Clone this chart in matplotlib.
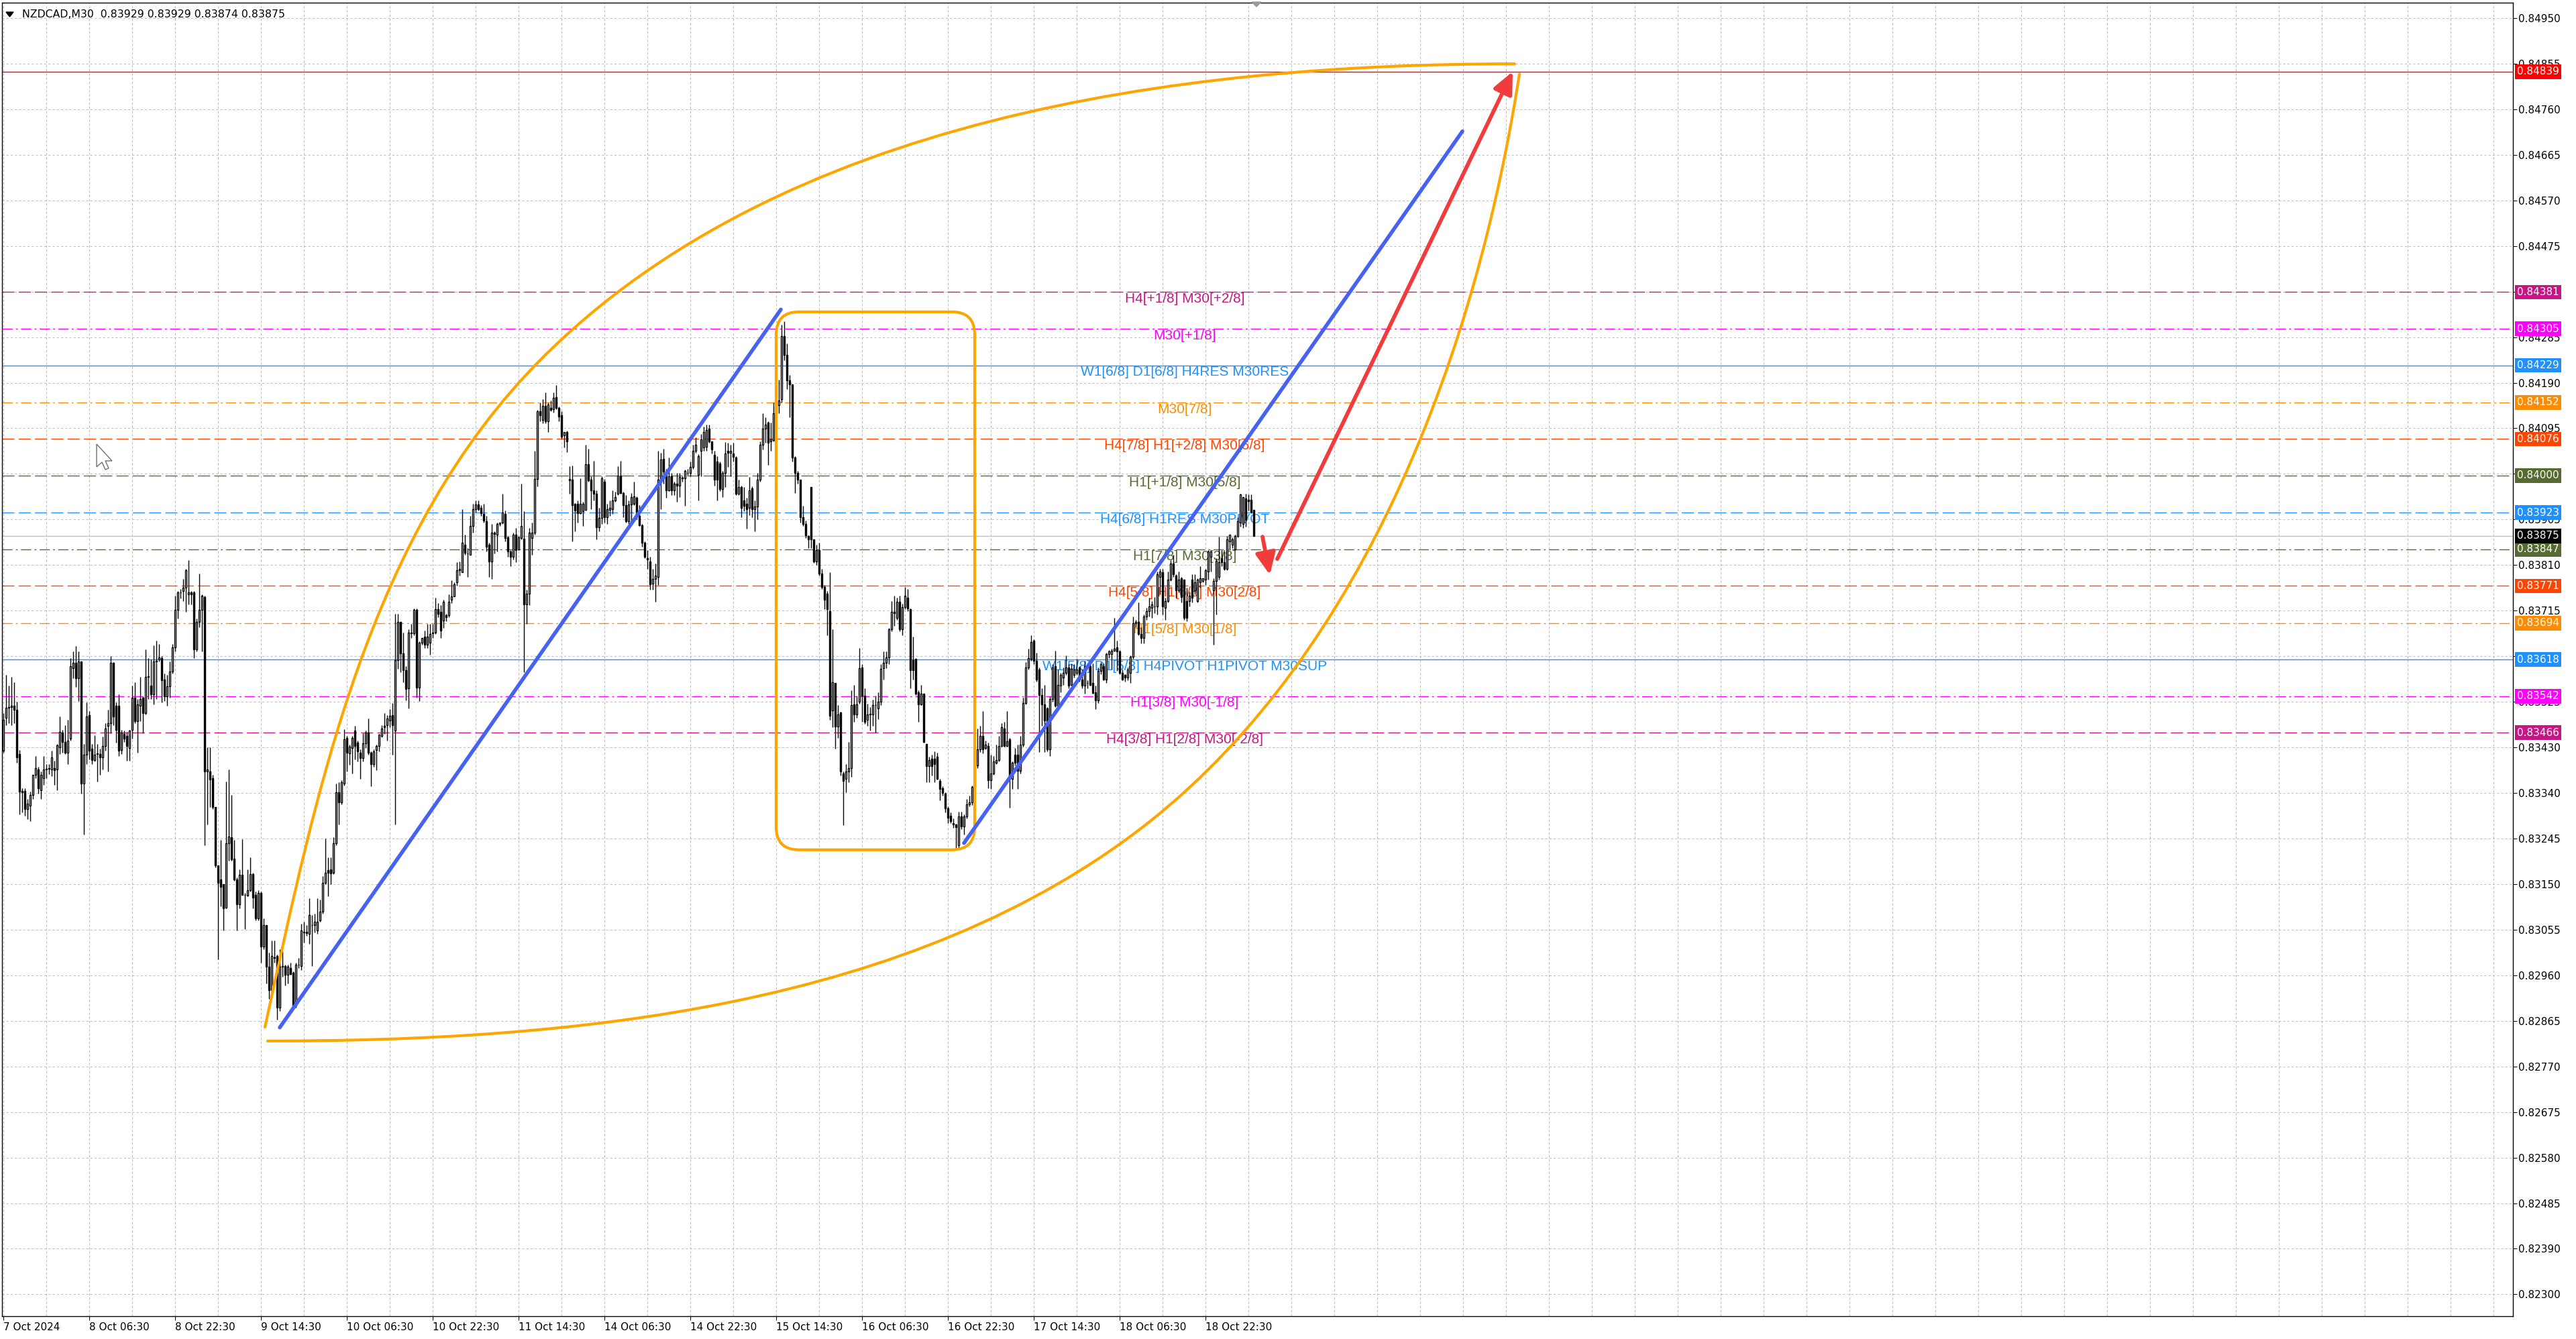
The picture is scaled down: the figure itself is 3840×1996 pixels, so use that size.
import numpy as np
import matplotlib
matplotlib.use("Agg")
import matplotlib.pyplot as plt
from matplotlib.patches import FancyBboxPatch, PathPatch, Polygon
from matplotlib.path import Path
from matplotlib.transforms import IdentityTransform

# ============================================
# DATA  (candle prices stored as points above 0.82000)
# ============================================

OPEN_PTS = [
    1429, 1497, 1518, 1519, 1522, 1514, 1422, 1345, 1345, 1308,
    1315, 1337, 1379, 1390, 1347, 1372, 1390, 1391, 1390, 1392,
    1390, 1436, 1466, 1447, 1425, 1454, 1600, 1611, 1579, 1614,
    1361, 1420, 1502, 1433, 1409, 1422, 1422, 1415, 1439, 1480,
    1486, 1611, 1522, 1522, 1430, 1463, 1459, 1435, 1472, 1539,
    1490, 1522, 1539, 1507, 1582, 1564, 1546, 1614, 1618, 1621,
    1577, 1541, 1563, 1593, 1643, 1721, 1757, 1760, 1767, 1753,
    1757, 1758, 1639, 1696, 1721, 1748, 1386, 1386, 1372, 1312,
    1191, 1162, 1151, 1103, 1237, 1249, 1205, 1162, 1110, 1171,
    1130, 1128, 1139, 1173, 1130, 1080, 1134, 1022, 1066, 980,
    931, 1000, 1002, 895, 980, 982, 963, 977, 968, 899,
    984, 982, 1052, 1053, 1048, 1067, 1067, 1055, 1077, 1094,
    1155, 1181, 1183, 1176, 1236, 1343, 1321, 1361, 1455, 1423,
    1435, 1470, 1446, 1425, 1413, 1444, 1467, 1425, 1401, 1430,
    1439, 1460, 1478, 1482, 1492, 1503, 1471, 1617, 1696, 1631,
    1596, 1558, 1674, 1672, 1721, 1560, 1653, 1665, 1649, 1653,
    1672, 1674, 1723, 1717, 1699, 1710, 1710, 1742, 1749, 1778,
    1803, 1800, 1856, 1838, 1836, 1895, 1930, 1940, 1933, 1920,
    1905, 1857, 1822, 1881, 1877, 1900, 1902, 1920, 1872, 1842,
    1831, 1877, 1847, 1870, 1869, 1733, 1755, 1870, 1881, 1993,
    2134, 2116, 2145, 2113, 2141, 2138, 2163, 2141, 2126, 2084,
    2091, 1990, 1991, 1942, 1942, 1922, 1926, 1929, 2024, 1991,
    1970, 1963, 1893, 1912, 1988, 1913, 1929, 1931, 1949, 1963,
    2000, 1964, 1938, 1905, 1940, 1942, 1954, 1917, 1897, 1860,
    1828, 1822, 1776, 1786, 1790, 1991, 2035, 2008, 1969, 1999,
    1969, 1983, 1979, 1995, 1995, 2006, 2006, 2018, 2052, 2002,
    2052, 2058, 2060, 2097, 2071, 2043, 2029, 2025, 1972, 2006,
    2051, 2048, 2046, 2037, 1962, 1976, 1949, 1941, 1933, 1974,
    1930, 1936, 1991, 2064, 2098, 2110, 2071, 2074, 2129, 2146,
    2159, 2290, 2251, 2198, 2190, 2038, 2006, 1991, 1914, 1900,
    1874, 1976, 1867, 1822, 1845, 1796, 1769, 1755, 1719, 1512,
    1569, 1479, 1508, 1382, 1370, 1386, 1393, 1525, 1504, 1531,
    1602, 1543, 1493, 1504, 1504, 1524, 1516, 1531, 1600, 1612,
    1622, 1681, 1715, 1704, 1738, 1681, 1727, 1747, 1723, 1617,
    1619, 1550, 1525, 1547, 1443, 1397, 1412, 1412, 1416, 1366,
    1351, 1340, 1309, 1294, 1278, 1275, 1233, 1293, 1271, 1293,
    1318, 1321, 1354, 1398, 1431, 1459, 1434, 1439, 1368, 1382,
    1404, 1409, 1439, 1475, 1439, 1453, 1371, 1420, 1420, 1387,
    1442, 1528, 1602, 1619, 1657, 1616, 1597, 1544, 1525, 1517,
    1431, 1536, 1605, 1522, 1564, 1580, 1591, 1602, 1566, 1586,
    1591, 1602, 1577, 1564, 1570, 1605, 1569, 1550, 1533, 1594,
    1605, 1577, 1630, 1630, 1636, 1643, 1635, 1591, 1586, 1580,
    1591, 1624, 1693, 1696, 1671, 1663, 1707, 1718, 1726, 1729,
    1729, 1790, 1799, 1726, 1740, 1784, 1817, 1792, 1762, 1787,
    1784, 1740, 1740, 1784, 1762, 1740, 1779, 1781, 1784, 1801,
    1831, 1762, 1781, 1790, 1828, 1820, 1806, 1864, 1856, 1847,
    1875, 1903, 1900, 1952, 1950, 1950, 1929,
]

HIGH_PTS = [
    1507, 1586, 1564, 1582, 1571, 1530, 1430, 1351, 1351, 1329,
    1344, 1379, 1418, 1395, 1386, 1418, 1401, 1401, 1429, 1408,
    1443, 1500, 1472, 1482, 1493, 1621, 1635, 1646, 1635, 1614,
    1443, 1529, 1511, 1443, 1461, 1443, 1433, 1458, 1486, 1514,
    1625, 1613, 1529, 1546, 1472, 1470, 1468, 1472, 1564, 1571,
    1536, 1582, 1541, 1639, 1621, 1618, 1648, 1657, 1650, 1625,
    1589, 1586, 1614, 1650, 1750, 1760, 1765, 1785, 1806, 1824,
    1760, 1760, 1703, 1796, 1753, 1750, 1436, 1436, 1379, 1312,
    1191, 1244, 1151, 1365, 1390, 1337, 1244, 1166, 1183, 1245,
    1134, 1183, 1208, 1176, 1137, 1139, 1137, 1080, 1066, 1009,
    1034, 1034, 1005, 1016, 1013, 984, 984, 988, 970, 988,
    998, 1069, 1073, 1066, 1123, 1087, 1091, 1123, 1119, 1169,
    1247, 1208, 1208, 1249, 1361, 1364, 1368, 1473, 1460, 1442,
    1460, 1480, 1450, 1432, 1465, 1471, 1496, 1428, 1432, 1442,
    1464, 1482, 1507, 1503, 1515, 1528, 1713, 1713, 1696, 1674,
    1605, 1681, 1692, 1724, 1724, 1656, 1663, 1678, 1692, 1692,
    1692, 1746, 1735, 1731, 1742, 1713, 1753, 1783, 1779, 1820,
    1822, 1931, 1877, 1849, 1917, 1942, 1949, 1949, 1938, 1942,
    1917, 1860, 1899, 1885, 1902, 1902, 1963, 1927, 1874, 1845,
    1881, 1892, 1874, 1983, 1926, 1763, 1892, 1902, 2052, 2136,
    2152, 2159, 2173, 2152, 2156, 2173, 2188, 2143, 2134, 2091,
    2093, 2020, 2021, 1943, 1949, 1995, 1945, 2064, 2056, 1999,
    2031, 1970, 1933, 1999, 1993, 1942, 1949, 1970, 1967, 2020,
    2031, 1967, 1959, 1949, 1964, 1988, 1957, 1938, 1899, 1863,
    1845, 1831, 1806, 1817, 2052, 2048, 2056, 2014, 2037, 2006,
    1987, 2006, 2006, 1999, 2012, 2014, 2029, 2064, 2079, 2045,
    2087, 2102, 2106, 2106, 2071, 2052, 2041, 2029, 2010, 2069,
    2068, 2064, 2068, 2041, 1992, 1979, 1976, 1954, 1997, 1977,
    1949, 2006, 2071, 2130, 2121, 2113, 2110, 2152, 2152, 2199,
    2313, 2320, 2274, 2209, 2190, 2041, 2010, 1991, 1937, 1907,
    1876, 1976, 1868, 1857, 1861, 1807, 1773, 1761, 1799, 1681,
    1569, 1524, 1510, 1386, 1401, 1447, 1554, 1566, 1543, 1642,
    1608, 1558, 1527, 1520, 1535, 1543, 1550, 1608, 1635, 1635,
    1684, 1740, 1750, 1746, 1750, 1734, 1769, 1765, 1724, 1665,
    1619, 1554, 1566, 1547, 1443, 1416, 1420, 1428, 1424, 1370,
    1355, 1343, 1313, 1301, 1288, 1277, 1302, 1302, 1296, 1329,
    1335, 1357, 1415, 1475, 1481, 1511, 1450, 1445, 1420, 1418,
    1442, 1459, 1486, 1489, 1511, 1456, 1406, 1434, 1442, 1459,
    1539, 1613, 1641, 1668, 1660, 1632, 1602, 1558, 1566, 1519,
    1542, 1608, 1636, 1597, 1591, 1602, 1627, 1608, 1610, 1608,
    1619, 1605, 1597, 1616, 1575, 1610, 1610, 1564, 1602, 1613,
    1610, 1632, 1638, 1641, 1704, 1657, 1638, 1597, 1588, 1602,
    1627, 1707, 1701, 1737, 1685, 1712, 1726, 1746, 1740, 1748,
    1801, 1806, 1806, 1746, 1801, 1825, 1836, 1795, 1801, 1790,
    1784, 1768, 1759, 1795, 1795, 1787, 1812, 1787, 1806, 1845,
    1842, 1787, 1828, 1873, 1845, 1842, 1875, 1878, 1872, 1878,
    1914, 1962, 1955, 1963, 1961, 1961, 1929,
]

LOW_PTS = [
    1425, 1482, 1486, 1482, 1486, 1404, 1297, 1301, 1294, 1287,
    1283, 1329, 1372, 1340, 1329, 1358, 1372, 1380, 1376, 1358,
    1347, 1422, 1425, 1422, 1401, 1450, 1579, 1561, 1532, 1340,
    1255, 1401, 1411, 1401, 1406, 1365, 1379, 1390, 1429, 1386,
    1465, 1482, 1445, 1418, 1422, 1447, 1408, 1408, 1454, 1486,
    1425, 1490, 1465, 1504, 1536, 1536, 1525, 1536, 1614, 1529,
    1532, 1522, 1539, 1589, 1635, 1703, 1745, 1739, 1717, 1732,
    1732, 1621, 1635, 1685, 1635, 1233, 1276, 1312, 1308, 1187,
    995, 1105, 1055, 1101, 1201, 1201, 1158, 1055, 1101, 1130,
    1059, 1126, 1137, 1101, 1077, 1077, 988, 1016, 945, 913,
    924, 988, 870, 888, 959, 941, 945, 963, 895, 895,
    977, 973, 1030, 1045, 1027, 982, 1052, 1048, 1073, 1091,
    1151, 1126, 1151, 1173, 1232, 1275, 1318, 1357, 1386, 1400,
    1382, 1411, 1407, 1371, 1407, 1435, 1421, 1355, 1396, 1389,
    1428, 1457, 1464, 1450, 1478, 1421, 1275, 1599, 1592, 1571,
    1534, 1517, 1663, 1669, 1539, 1532, 1649, 1642, 1642, 1628,
    1663, 1671, 1706, 1663, 1684, 1698, 1706, 1735, 1749, 1771,
    1792, 1799, 1835, 1790, 1835, 1881, 1924, 1927, 1917, 1902,
    1842, 1790, 1786, 1838, 1842, 1895, 1899, 1863, 1831, 1812,
    1826, 1820, 1845, 1867, 1592, 1692, 1731, 1835, 1877, 1977,
    2113, 2109, 2109, 2091, 2133, 2131, 2138, 2113, 2077, 2059,
    2049, 1963, 1863, 1885, 1902, 1920, 1895, 1927, 1988, 1931,
    1949, 1867, 1885, 1899, 1902, 1899, 1917, 1920, 1945, 1959,
    1963, 1913, 1902, 1899, 1899, 1938, 1910, 1895, 1853, 1828,
    1806, 1763, 1763, 1738, 1773, 1930, 1983, 1954, 1968, 1960,
    1960, 1945, 1956, 1987, 1937, 2002, 1999, 2014, 2048, 1949,
    1999, 2052, 2052, 2068, 2046, 1979, 1949, 1968, 1956, 1976,
    2018, 1999, 2029, 1960, 1960, 1914, 1926, 1890, 1918, 1914,
    1884, 1910, 1987, 2054, 2068, 2022, 2052, 2071, 2125, 2130,
    2152, 2240, 2179, 2121, 2029, 1964, 1983, 1903, 1895, 1870,
    1849, 1849, 1819, 1815, 1792, 1765, 1723, 1669, 1493, 1478,
    1433, 1455, 1378, 1274, 1343, 1363, 1374, 1489, 1497, 1527,
    1489, 1485, 1481, 1470, 1481, 1466, 1494, 1524, 1577, 1600,
    1608, 1677, 1688, 1700, 1677, 1669, 1723, 1719, 1558, 1577,
    1545, 1489, 1524, 1445, 1363, 1363, 1378, 1363, 1369, 1326,
    1336, 1301, 1278, 1278, 1268, 1225, 1227, 1266, 1255, 1288,
    1313, 1316, 1351, 1393, 1426, 1423, 1431, 1351, 1349, 1379,
    1401, 1406, 1437, 1437, 1437, 1310, 1349, 1398, 1349, 1382,
    1437, 1525, 1597, 1616, 1608, 1572, 1426, 1481, 1426, 1428,
    1418, 1531, 1519, 1519, 1550, 1566, 1586, 1558, 1564, 1580,
    1586, 1572, 1558, 1547, 1558, 1564, 1547, 1515, 1528, 1588,
    1575, 1569, 1621, 1597, 1635, 1594, 1588, 1575, 1572, 1575,
    1569, 1619, 1685, 1668, 1652, 1652, 1701, 1707, 1704, 1715,
    1712, 1754, 1712, 1701, 1737, 1781, 1790, 1746, 1757, 1737,
    1701, 1698, 1729, 1737, 1754, 1737, 1768, 1779, 1773, 1784,
    1801, 1649, 1712, 1784, 1812, 1803, 1803, 1845, 1850, 1845,
    1872, 1894, 1892, 1894, 1927, 1922, 1874,
]

CLOSE_PTS = [
    1493, 1518, 1519, 1522, 1514, 1415, 1344, 1342, 1308, 1319,
    1337, 1379, 1393, 1351, 1379, 1390, 1391, 1393, 1415, 1389,
    1440, 1468, 1447, 1425, 1450, 1604, 1611, 1579, 1614, 1361,
    1420, 1500, 1429, 1409, 1420, 1423, 1415, 1438, 1475, 1486,
    1611, 1500, 1472, 1429, 1466, 1454, 1438, 1470, 1539, 1490,
    1525, 1536, 1507, 1582, 1584, 1546, 1614, 1616, 1623, 1575,
    1541, 1563, 1593, 1643, 1721, 1757, 1758, 1767, 1803, 1757,
    1754, 1639, 1696, 1721, 1751, 1386, 1390, 1369, 1312, 1191,
    1155, 1146, 1101, 1237, 1251, 1203, 1162, 1110, 1171, 1130,
    1129, 1139, 1173, 1124, 1080, 1134, 1022, 1067, 980, 931,
    1002, 998, 895, 980, 982, 963, 980, 965, 896, 984,
    985, 1055, 1053, 1050, 1087, 1066, 1073, 1074, 1094, 1155,
    1176, 1176, 1174, 1237, 1343, 1321, 1363, 1453, 1425, 1437,
    1455, 1439, 1427, 1413, 1444, 1467, 1425, 1401, 1428, 1439,
    1462, 1475, 1480, 1496, 1501, 1482, 1617, 1696, 1631, 1596,
    1557, 1674, 1672, 1722, 1560, 1653, 1663, 1649, 1665, 1671,
    1674, 1723, 1713, 1678, 1738, 1706, 1738, 1749, 1774, 1803,
    1806, 1860, 1840, 1838, 1895, 1931, 1940, 1930, 1922, 1906,
    1853, 1822, 1881, 1879, 1899, 1902, 1924, 1870, 1842, 1831,
    1877, 1845, 1872, 1895, 1733, 1755, 1881, 1881, 1993, 2134,
    2126, 2145, 2113, 2147, 2136, 2161, 2140, 2123, 2081, 2090,
    2071, 1993, 1938, 1927, 1922, 1942, 1942, 2024, 1990, 1970,
    1963, 1893, 1912, 1995, 1913, 1931, 1933, 1949, 1956, 2000,
    1964, 1938, 1905, 1940, 1956, 1957, 1917, 1897, 1860, 1831,
    1826, 1774, 1786, 1792, 1991, 2033, 2008, 1969, 1999, 1969,
    1983, 1979, 1997, 1996, 2010, 2006, 2018, 2052, 2064, 2041,
    2075, 2091, 2094, 2071, 2054, 1991, 1991, 1972, 2006, 2046,
    2048, 2051, 2039, 1962, 1976, 1933, 1937, 1931, 1969, 1930,
    1936, 1991, 2064, 2097, 2106, 2068, 2075, 2129, 2146, 2156,
    2290, 2251, 2198, 2190, 2038, 2006, 1991, 1914, 1900, 1876,
    1867, 1867, 1822, 1845, 1796, 1769, 1742, 1723, 1501, 1571,
    1479, 1504, 1386, 1366, 1386, 1393, 1524, 1504, 1525, 1600,
    1543, 1489, 1504, 1505, 1524, 1523, 1531, 1599, 1612, 1623,
    1681, 1717, 1717, 1738, 1681, 1727, 1750, 1724, 1596, 1596,
    1547, 1525, 1547, 1447, 1397, 1410, 1397, 1401, 1370, 1349,
    1341, 1309, 1290, 1282, 1275, 1270, 1293, 1271, 1293, 1318,
    1321, 1354, 1398, 1431, 1459, 1431, 1442, 1368, 1382, 1406,
    1409, 1439, 1478, 1439, 1448, 1371, 1404, 1404, 1387, 1442,
    1528, 1602, 1621, 1655, 1616, 1577, 1544, 1525, 1492, 1431,
    1536, 1602, 1522, 1566, 1586, 1591, 1602, 1564, 1599, 1597,
    1597, 1577, 1564, 1605, 1570, 1566, 1548, 1533, 1594, 1608,
    1577, 1630, 1635, 1636, 1641, 1635, 1591, 1577, 1580, 1597,
    1624, 1693, 1696, 1671, 1663, 1707, 1718, 1729, 1732, 1729,
    1795, 1801, 1729, 1740, 1784, 1817, 1795, 1762, 1784, 1748,
    1704, 1704, 1751, 1746, 1779, 1784, 1787, 1787, 1803, 1842,
    1842, 1781, 1823, 1820, 1820, 1806, 1867, 1878, 1867, 1875,
    1905, 1961, 1955, 1908, 1947, 1925, 1875,
]

TITLE = "NZDCAD,M30  0.83929 0.83929 0.83874 0.83875"

Y_TICK_LABELS = [
    "0.84950", "0.84855", "0.84760", "0.84665", "0.84570", "0.84475",
    "0.84380", "0.84285", "0.84190", "0.84095", "0.84000", "0.83905",
    "0.83810", "0.83715", "0.83620", "0.83525", "0.83430", "0.83340",
    "0.83245", "0.83150", "0.83055", "0.82960", "0.82865", "0.82770",
    "0.82675", "0.82580", "0.82485", "0.82390", "0.82300",
]

X_TICK_BARS = list(range(0, 449, 32))
X_TICK_LABELS = [
    "7 Oct 2024", "8 Oct 06:30", "8 Oct 22:30", "9 Oct 14:30",
    "10 Oct 06:30", "10 Oct 22:30", "11 Oct 14:30", "14 Oct 06:30",
    "14 Oct 22:30", "15 Oct 14:30", "16 Oct 06:30", "16 Oct 22:30",
    "17 Oct 14:30", "18 Oct 06:30", "18 Oct 22:30",
]

# Murrey-math style levels
LEVEL_PRICES = [0.84381, 0.84305, 0.84229, 0.84152, 0.84076, 0.84000, 0.83923,
                0.83847, 0.83771, 0.83694, 0.83618, 0.83542, 0.83466]
LEVEL_NAMES = [
    "H4[+1/8] M30[+2/8]",
    "M30[+1/8]",
    "W1[6/8] D1[6/8] H4RES M30RES",
    "M30[7/8]",
    "H4[7/8] H1[+2/8] M30[6/8]",
    "H1[+1/8] M30[5/8]",
    "H4[6/8] H1RES M30PIVOT",
    "H1[7/8] M30[3/8]",
    "H4[5/8] H1[6/8] M30[2/8]",
    "H1[5/8] M30[1/8]",
    "W1[5/8] D1[5/8] H4PIVOT H1PIVOT M30SUP",
    "H1[3/8] M30[-1/8]",
    "H4[3/8] H1[2/8] M30[-2/8]",
]
LEVEL_COLORS = ["#C71585", "#FF00FF", "#1E90FF", "#FF8C00", "#FF4500", "#556B2F", "#1E90FF",
                "#556B2F", "#FF4500", "#FF8C00", "#1E90FF", "#FF00FF", "#C71585"]
LEVEL_STYLES = ["dash", "dashdot", "solid", "dashdot", "dash", "dash", "dash",
                "dashdot", "dash", "dashdot", "solid", "dashdot", "dash"]

TARGET_PRICE = 0.84839
LAST_PRICE = 0.83875

# drawing objects (bar index, price)
BLUE_LINE_1 = [(103.0, 0.82854), (289.75, 0.84345)]
BLUE_LINE_2 = [(358.0, 0.83237), (543.75, 0.84715)]
BOX_BARS = (288.0, 362.0)
BOX_PRICES = (0.83223, 0.84340)
SMALL_ARROW = [(469.25, 0.83873), (472.0, 0.83794)]
BIG_ARROW = [(474.75, 0.83827), (562.5, 0.84839)]
UPPER_ARC_BARS = [97.5, 116.9, 135.9, 200.8, 290.2, 437.1, 563.2]
UPPER_ARC_PRICES = [0.82855, 0.83350, 0.83882, 0.84244, 0.84742, 0.84855, 0.84855]
LOWER_ARC_BARS = [98.5, 211.2, 339.1, 427.3, 508.1, 549.1, 565.0]
LOWER_ARC_PRICES = [0.82826, 0.82826, 0.82893, 0.83282, 0.83640, 0.84264, 0.84834]

# ============================================
# FIGURE
# ============================================

W, H, DPI = 3840, 1996, 100
AX_L, AX_R, AX_T, AX_B = 3, 3746, 4, 1962

fig = plt.figure(figsize=(W / DPI, H / DPI), dpi=DPI, facecolor="white")
ax = fig.add_axes([AX_L / W, (H - AX_B) / H, (AX_R - AX_L) / W, (AX_B - AX_T) / H])
ax.set_xlim(-0.5, 935.25)
ax.set_ylim(0.822546, 0.849820)
ax.set_facecolor("white")


def px_x(px):
    """pixel column -> axes fraction"""
    return (px - AX_L) / (AX_R - AX_L)


# grid
yticks = np.linspace(0.84950, 0.82300, len(Y_TICK_LABELS))
for y in yticks:
    ax.axhline(y, color="#bdbdbd", lw=0.75, ls=(0, (3, 3)), zorder=1)
for b in range(0, 936, 16):
    ax.axvline(b, color="#bdbdbd", lw=0.75, ls=(0, (3, 3)), zorder=1)

# level lines + labels
STYLE_MAP = {"solid": "-", "dash": (0, (13, 4.5)), "dashdot": (0, (11, 3.5, 2, 3.5))}
for price, name, col, st in zip(LEVEL_PRICES, LEVEL_NAMES, LEVEL_COLORS, LEVEL_STYLES):
    ax.axhline(price, color=col, lw=1.0, ls=STYLE_MAP[st], zorder=2)
    ax.annotate(name, xy=(440.25, price), xytext=(0, -0.5), textcoords="offset points",
                ha="center", va="top", color=col, fontsize=15,
                family=["Liberation Sans", "DejaVu Sans"], zorder=2)

ax.axhline(TARGET_PRICE, color="#FF0000", lw=1.0, zorder=2)
ax.axhline(LAST_PRICE, color="#C0C0C0", lw=1.0, zorder=2)

# candles
o = 0.82 + np.array(OPEN_PTS) / 1e5
c = 0.82 + np.array(CLOSE_PTS) / 1e5
h = np.maximum.reduce([0.82 + np.array(HIGH_PTS) / 1e5, o, c])
l = np.minimum.reduce([0.82 + np.array(LOW_PTS) / 1e5, o, c])
idx = np.arange(len(o))
up = c >= o

ax.vlines(idx, l, h, color="black", lw=1.0, zorder=3)
ax.bar(idx[up], (c - o)[up], bottom=o[up], width=0.72, color="white",
       edgecolor="black", lw=1.0, zorder=4)
ax.bar(idx[~up], (o - c)[~up], bottom=c[~up], width=0.72, color="black",
       edgecolor="black", lw=1.0, zorder=4)

# orange arcs (bezier drawing objects)
codes = [Path.MOVETO] + [Path.CURVE4] * 6
for bars, prices in ((UPPER_ARC_BARS, UPPER_ARC_PRICES), (LOWER_ARC_BARS, LOWER_ARC_PRICES)):
    path = Path(list(zip(bars, prices)), codes)
    ax.add_patch(PathPatch(path, fill=False, ec="#FFA500", lw=3.0, zorder=5, capstyle="round"))

# blue trend lines
for line in (BLUE_LINE_1, BLUE_LINE_2):
    (x0, y0), (x1, y1) = line
    ax.plot([x0, x1], [y0, y1], color="#4662F0", lw=4.0, solid_capstyle="round", zorder=6)

# rounded box (drawn in pixel space so corners stay round)
bx0, by0 = ax.transData.transform((BOX_BARS[0], BOX_PRICES[0]))
bx1, by1 = ax.transData.transform((BOX_BARS[1], BOX_PRICES[1]))
box = FancyBboxPatch((bx0, by0), bx1 - bx0, by1 - by0,
                     boxstyle="round,pad=0,rounding_size=34",
                     transform=IdentityTransform(), fill=False, ec="#FFA500", lw=3.0, zorder=5)
ax.add_artist(box)

# red arrows
for arr in (SMALL_ARROW, BIG_ARROW):
    ax.annotate("", xy=arr[1], xytext=arr[0],
                arrowprops=dict(arrowstyle="-|>,head_length=0.7,head_width=0.32",
                                color="#F03C3C", lw=4.2, shrinkA=0, shrinkB=0,
                                mutation_scale=28), zorder=7)

# axes styling
for sp in ax.spines.values():
    sp.set_color("black")
    sp.set_linewidth(1.0)

ax.yaxis.tick_right()
ax.set_yticks(yticks)
ax.set_yticklabels(Y_TICK_LABELS)
ax.tick_params(axis="y", which="both", left=False, right=True, length=4, width=0.75,
               pad=2, labelsize=11, colors="black")
ax.set_xticks(X_TICK_BARS)
ax.set_xticklabels(X_TICK_LABELS, ha="left")
ax.tick_params(axis="x", length=4, width=0.75, pad=2.5, labelsize=11, colors="black")

# price boxes on the scale
BOX_X = px_x(3752)
box_items = list(zip(LEVEL_PRICES, LEVEL_COLORS)) + [(TARGET_PRICE, "#FF0000"), (LAST_PRICE, "black")]
for price, col in box_items:
    ax.text(BOX_X, price, f"{price:.5f}", transform=ax.get_yaxis_transform(),
            ha="left", va="center", color="white", fontsize=11, clip_on=False, zorder=10,
            bbox=dict(boxstyle="square,pad=0.22", fc=col, ec="none"))

# title with small triangle
fig.text(33 / W, 1 - 21 / H, TITLE, ha="left", va="center", fontsize=11.3, color="black")
tri = Polygon([(9, H - 18), (20, H - 18), (14.5, H - 25)], closed=True,
              transform=IdentityTransform(), fc="black", ec="black")
fig.add_artist(tri)

# chart shift marker at the top
mark = Polygon([(1866, H - 3), (1880, H - 3), (1873, H - 10)], closed=True,
               transform=IdentityTransform(), fc="#9a9a9a", ec="#9a9a9a")
fig.add_artist(mark)

# mouse cursor
tip_x, tip_y = 144, 662
cur = [(0, 0), (0, 34), (8, 27), (13, 38), (18, 36), (13, 25), (23, 25)]
cursor = Polygon([(tip_x + dx, H - (tip_y + dy)) for dx, dy in cur], closed=True,
                 transform=IdentityTransform(), fc="white", ec="#707070", lw=1.0, zorder=20)
fig.add_artist(cursor)

fig.savefig("out.png", dpi=DPI, facecolor="white")
